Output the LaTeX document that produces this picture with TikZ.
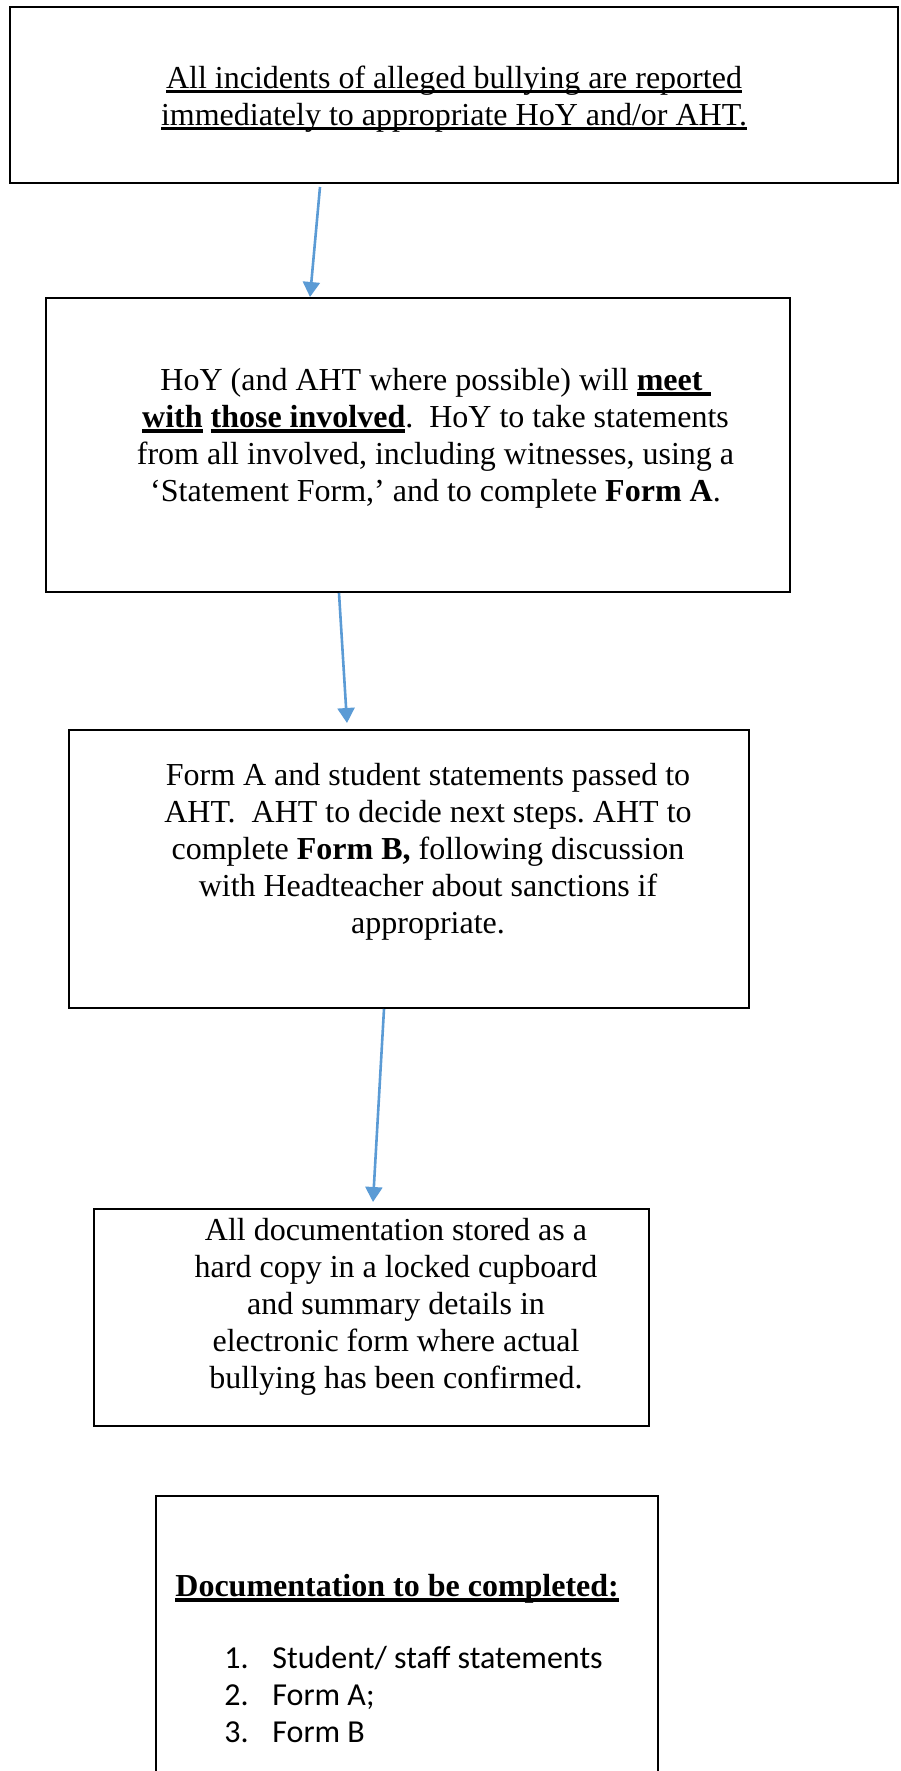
\documentclass[tikz,border=0pt]{standalone}
\usepackage{fontspec}
\setmainfont{Liberation Serif}
\newfontfamily\listfont{Carlito}
\usepackage{xcolor}
\usetikzlibrary{positioning, arrows.meta}
\definecolor{arrowblue}{HTML}{5B9BD5}
\newsavebox\undlbox
\newcommand{\undl}[2][1.5pt]{\sbox\undlbox{#2}\rlap{\vrule height -0.6pt depth \dimexpr0.6pt+#1\relax width \wd\undlbox}\usebox\undlbox}
\frenchspacing

\begin{document}
\begin{tikzpicture}[
    stepbox/.style={rectangle, draw=black, line width=1pt, inner sep=0pt},
    boxtext/.style={align=center, inner sep=0pt, font=\fontsize{16}{18.5}\selectfont},
    listtext/.style={align=left, inner sep=0pt, font=\fontsize{16}{18.5}\selectfont},
    flow/.style={draw=arrowblue, line width=1.3pt, -{Triangle[length=7.5pt, width=8.5pt]}}
]
\useasboundingbox (0,0) rectangle (450pt,-885.5pt);

\node[stepbox, minimum width=444pt, minimum height=88pt,
      label={[boxtext, yshift=-2pt]center:{\undl{All incidents of alleged bullying are reported}\\
      \undl{immediately to appropriate HoY and/or AHT.}}}](report) at (227pt,-47.5pt){};

\node[stepbox, minimum width=372pt, minimum height=147pt,
      label={[boxtext, xshift=8.75pt, yshift=3.25pt]center:{HoY (and AHT where possible) will \textbf{\undl[2.2pt]{meet\ }}\\
      \textbf{\undl[2.2pt]{with}} \textbf{\undl[2.2pt]{those involved}}.\ \ HoY to take statements\\
      from all involved, including witnesses, using a\\
      ‘Statement Form,’ and to complete \textbf{Form A}.}}](meet)[below = 56.5pt of report, xshift=-18pt]{};

\node[stepbox, minimum width=340pt, minimum height=139pt,
      label={[boxtext, xshift=9.5pt, yshift=8.75pt]center:{Form A and student statements passed to\\
      AHT.\ \ AHT to decide next steps. AHT to\\
      complete \textbf{Form B,} following discussion\\
      with Headteacher about sanctions if\\
      appropriate.}}](pass)[below = 68pt of meet, xshift=-4.5pt]{};

\node[stepbox, minimum width=277.5pt, minimum height=108.5pt,
      label={[boxtext, xshift=12.25pt, yshift=5.5pt]center:{All documentation stored as a\\
      hard copy in a locked cupboard\\
      and summary details in\\
      electronic form where actual\\
      bullying has been confirmed.}}](store)[below = 99.5pt of pass, xshift=-18.75pt]{};

\node[stepbox, minimum width=251pt, minimum height=160pt,
      label={[listtext, anchor=north west, xshift=10pt, yshift=-39.5pt]north west:{\textbf{\undl[2.2pt]{Documentation to be completed:}}\\[17.5pt]
      {\listfont\hspace*{24.5pt}\makebox[24pt][l]{1.}Student/ staff statements}\\
      {\listfont\hspace*{24.5pt}\makebox[24pt][l]{2.}Form A;}\\
      {\listfont\hspace*{24.5pt}\makebox[24pt][l]{3.}Form B}}}](docs)[below = 34pt of store, xshift=17.75pt]{};

\draw[flow] ([xshift=-67pt, yshift=-1.5pt]report.south) -- ([xshift=-54pt]meet.north);
\draw[flow] ([xshift=-39.5pt]meet.south) -- ([xshift=-31pt, yshift=3pt]pass.north);
\draw[flow] ([xshift=-12.5pt]pass.south) -- ([xshift=0.75pt, yshift=3pt]store.north);
\end{tikzpicture}
\end{document}
